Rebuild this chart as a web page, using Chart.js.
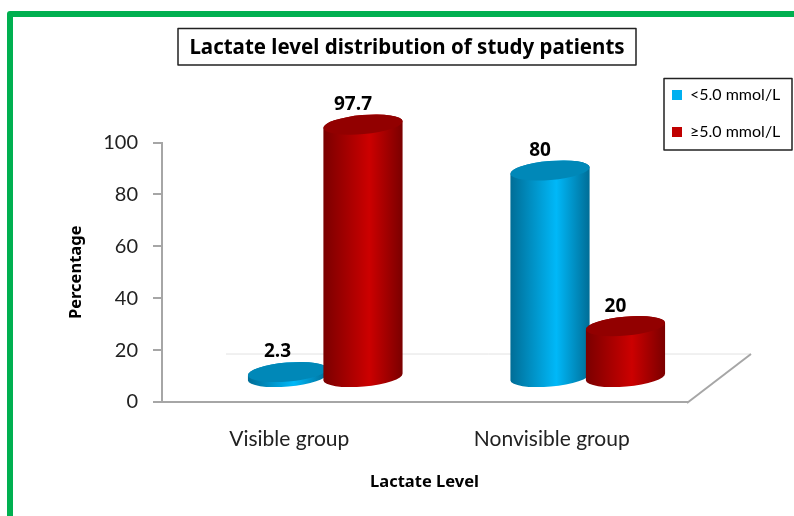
<!DOCTYPE html>
<html>
<head>
<meta charset="utf-8">
<style>
  html, body { margin: 0; padding: 0; background: #fff; }
  canvas { display: block; }
</style>
<script src="https://cdn.jsdelivr.net/npm/chart.js@4"></script>
</head>
<body>
<canvas id="myChart" width="794" height="516"></canvas>
<script>
const categories = ['Visible group', 'Nonvisible group'];
const seriesNames = ['<5.0 mmol/L', '\u22655.0 mmol/L'];
const lowLactate = [2.3, 80];
const highLactate = [97.7, 20];
const yTicks = [0, 20, 40, 60, 80, 100];

const legendColors = ['#00b0f0', '#c00000'];
const sideEdge = ['#006d96', '#7a0000'];
const sideMid = ['#00b8f8', '#cc0000'];
const capColors = ['#0088b8', '#920000'];

// depth of the fake 3d floor, bars stand in the middle of it
const floorX = 64;
const floorY = -48;
const tilt = -5 * Math.PI / 180;
const capHeight = 9.5;

function drawCylinder(ctx, bar, d) {
    const cx = bar.x + floorX / 2;
    const top = bar.y + floorY / 2;
    const bottom = bar.base + floorY / 2;
    const rx = bar.width / 2 + 2;
    const dx = rx * Math.cos(tilt);

    const grad = ctx.createLinearGradient(cx - rx, 0, cx + rx, 0);
    grad.addColorStop(0, sideEdge[d]);
    grad.addColorStop(0.58, sideMid[d]);
    grad.addColorStop(1, sideEdge[d]);

    ctx.beginPath();
    ctx.ellipse(cx, bottom, rx, capHeight, tilt, 0, Math.PI);
    ctx.lineTo(cx - dx, top - rx * Math.sin(tilt));
    ctx.ellipse(cx, top, rx, capHeight, tilt, Math.PI, 0);
    ctx.closePath();
    ctx.fillStyle = grad;
    ctx.fill();

    ctx.beginPath();
    ctx.ellipse(cx, top, rx, capHeight, tilt, 0, Math.PI * 2);
    ctx.fillStyle = capColors[d];
    ctx.fill();
}

const cylinders = {
    id: 'cylinders',
    beforeDraw(chart) {
        const ctx = chart.ctx;
        // green frame, only left and top are inside the picture
        ctx.save();
        ctx.strokeStyle = '#00b050';
        ctx.lineWidth = 6;
        ctx.lineJoin = 'round';
        ctx.beginPath();
        ctx.moveTo(10, 520);
        ctx.lineTo(10, 14);
        ctx.lineTo(800, 14);
        ctx.stroke();
        // title box
        ctx.strokeStyle = '#222';
        ctx.lineWidth = 1.5;
        ctx.strokeRect(178, 28.5, 458, 36.5);
        // legend box
        ctx.strokeRect(664, 78.5, 128, 71.5);
        ctx.restore();

        const title = chart.titleBlock;
        title.left = 178;
        title.right = 636;
        title.top = 36;
        const legend = chart.legend;
        legend.left = 651;
        legend.right = 792;
        legend.top = 66;
        legend.bottom = 300;
    },
    beforeDatasetsDraw(chart) {
        const ctx = chart.ctx;
        const area = chart.chartArea;
        ctx.save();
        ctx.lineWidth = 1;
        ctx.strokeStyle = '#e2e2e2';
        ctx.beginPath();
        ctx.moveTo(area.left + floorX, area.bottom + floorY);
        ctx.lineTo(area.right + floorX, area.bottom + floorY);
        ctx.stroke();
        ctx.lineWidth = 2;
        ctx.strokeStyle = '#a6a6a6';
        ctx.beginPath();
        ctx.moveTo(area.right, area.bottom + 1);
        ctx.lineTo(area.right + floorX, area.bottom + floorY);
        ctx.stroke();

        categories.forEach((c, i) => {
            chart.data.datasets.forEach((ds, d) => {
                drawCylinder(ctx, chart.getDatasetMeta(d).data[i], d);
            });
        });

        // value labels
        ctx.fillStyle = '#000';
        ctx.font = 'bold 19px "Open Sans"';
        ctx.textAlign = 'center';
        ctx.textBaseline = 'middle';
        chart.data.datasets.forEach((ds, d) => {
            chart.getDatasetMeta(d).data.forEach((bar, i) => {
                ctx.fillText(ds.data[i], bar.x + floorX / 2 - 10, bar.y + floorY / 2 - 20);
            });
        });
        ctx.restore();
    }
};

new Chart(document.getElementById('myChart').getContext('2d'), {
    type: 'bar',
    data: {
        labels: categories,
        datasets: [
            { label: seriesNames[0], data: lowLactate, backgroundColor: 'transparent' },
            { label: seriesNames[1], data: highLactate, backgroundColor: 'transparent' }
        ]
    },
    options: {
        responsive: false,
        animation: false,
        events: [],
        layout: { padding: { top: 26, left: 66, right: 107, bottom: 24 } },
        datasets: { bar: { categoryPercentage: 0.575, barPercentage: 1 } },
        plugins: {
            tooltip: { enabled: false },
            title: {
                display: true,
                text: 'Lactate level distribution of study patients',
                color: '#000',
                font: { family: '"Noto Sans"', size: 20.5, weight: 'bold' },
                padding: { top: 0, bottom: 92 }
            },
            legend: {
                position: 'chartArea',
                align: 'start',
                onClick: null,
                labels: {
                    boxWidth: 10,
                    boxHeight: 10,
                    padding: 21,
                    color: '#222',
                    font: { family: 'Lato', size: 16 },
                    generateLabels(chart) {
                        return chart.data.datasets.map((ds, d) => ({
                            text: ds.label,
                            fillStyle: legendColors[d],
                            strokeStyle: legendColors[d],
                            lineWidth: 0,
                            datasetIndex: d
                        }));
                    }
                }
            }
        },
        scales: {
            x: {
                grid: { display: false },
                border: { color: '#a6a6a6', width: 2 },
                ticks: { color: '#222', font: { family: 'Lato', size: 21 }, padding: 17, labelOffset: -4, maxRotation: 0 },
                title: {
                    display: true,
                    text: 'Lactate Level',
                    color: '#000',
                    font: { family: '"Noto Sans"', size: 16.5, weight: 'bold' },
                    padding: { top: 3, bottom: 0 }
                }
            },
            y: {
                min: 0,
                max: 100,
                afterBuildTicks(scale) { scale.ticks = yTicks.map(v => ({ value: v })); },
                afterFit(scale) { scale.width = 96; },
                grid: { drawOnChartArea: false, color: '#a6a6a6', lineWidth: 2, tickLength: 9 },
                border: { color: '#a6a6a6', width: 2 },
                ticks: { color: '#222', font: { family: 'Lato', size: 20 }, padding: 15 },
                title: {
                    display: true,
                    text: 'Percentage',
                    color: '#000',
                    font: { family: '"Noto Sans"', size: 16.5, weight: 'bold' },
                    padding: 0
                }
            }
        }
    },
    plugins: [cylinders]
});
</script>
</body>
</html>
